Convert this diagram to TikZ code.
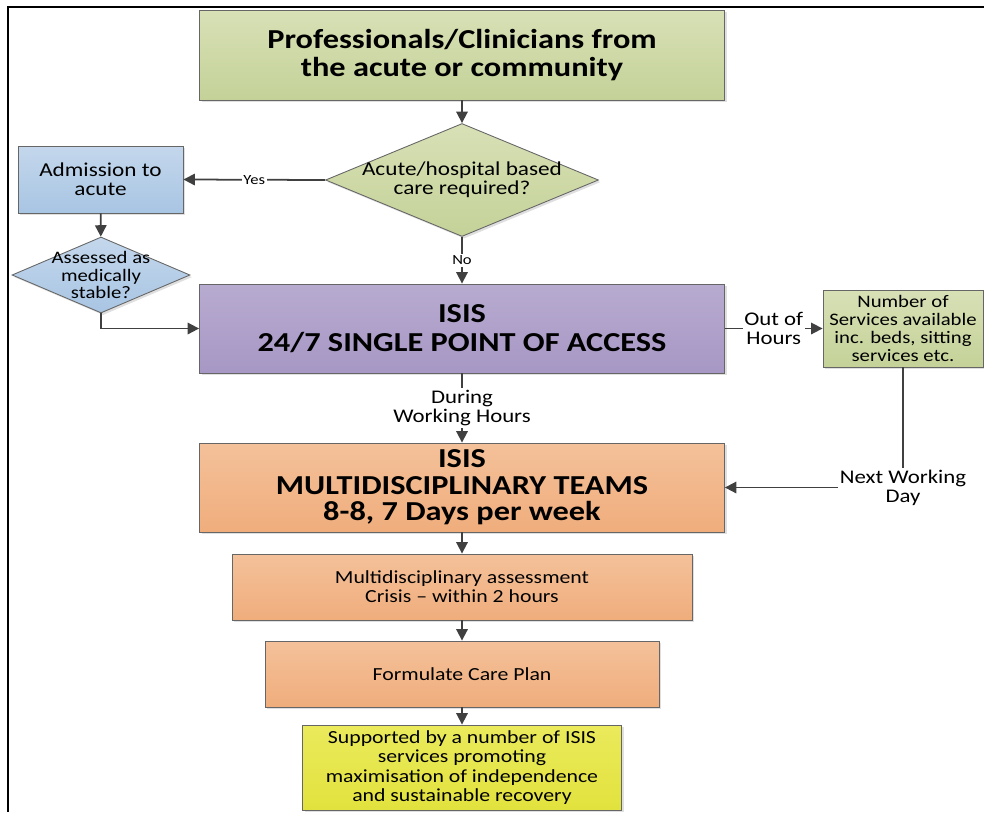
\documentclass[tikz,border=0pt]{standalone}
\usepackage{fontspec}
\setmainfont{Carlito}[FakeStretch=1.18]
\usetikzlibrary{arrows.meta, shapes.geometric, shadows}
\definecolor{greenT}{RGB}{216,224,182}
\definecolor{greenB}{RGB}{196,210,152}
\definecolor{purpleT}{RGB}{184,171,208}
\definecolor{purpleB}{RGB}{166,151,196}
\definecolor{orangeT}{RGB}{244,193,154}
\definecolor{orangeB}{RGB}{240,173,124}
\definecolor{blueT}{RGB}{196,215,236}
\definecolor{blueB}{RGB}{168,197,227}
\definecolor{yellowT}{RGB}{234,234,92}
\definecolor{yellowB}{RGB}{226,226,62}

\begin{document}
\begin{tikzpicture}[x=0.02cm, y=-0.02cm,
  box/.style={draw=black!60, line width=0.5pt, align=center, inner sep=2pt,
              drop shadow={shadow xshift=1.2pt, shadow yshift=-1.2pt, opacity=0.25}},
  greenbox/.style={box, top color=greenT, bottom color=greenB},
  purplebox/.style={box, top color=purpleT, bottom color=purpleB},
  orangebox/.style={box, top color=orangeT, bottom color=orangeB},
  bluebox/.style={box, top color=blueT, bottom color=blueB},
  yellowbox/.style={box, top color=yellowT, bottom color=yellowB},
  decision/.style={diamond, draw=black!60, line width=0.5pt, inner sep=0pt,
              drop shadow={shadow xshift=1.2pt, shadow yshift=-1.2pt, opacity=0.25}},
  headfont/.style={font=\bfseries\fontsize{15.6}{16.2}\selectfont},
  bodyfont/.style={font=\fontsize{10.5}{10.9}\selectfont},
  askfont/.style={align=center, font=\fontsize{11.2}{10.8}\selectfont},
  arr/.style={draw=black!75, line width=1pt, -{Triangle[length=6.5pt, width=6.5pt]}},
  lbl/.style={fill=white, inner sep=1pt, align=center, font=\fontsize{11}{10.8}\selectfont},
  yesno/.style={fill=white, inner sep=1pt, font=\fontsize{8}{9}\selectfont},
]
\useasboundingbox (0,0) rectangle (984,812);
\draw[line width=1.5pt] (984,7) -- (8,7) -- (8,812);

% boxes
\node[greenbox, headfont, minimum width=10.5cm, minimum height=1.8cm] (prof) at (462,55) {Professionals/Clinicians from\\the acute or community};
\node[decision, top color=greenT, bottom color=greenB, minimum width=5.46cm, minimum height=2.26cm,
      label={[askfont]center:Acute/hospital based\\care required?}] (acute) at (462,180) {};
\node[bluebox, askfont, minimum width=3.3cm, minimum height=1.34cm] (admit) at (100.5,179.5) {Admission to\\acute};
\node[decision, top color=blueT, bottom color=blueB, minimum width=3.56cm, minimum height=1.52cm,
      label={[align=center, font=\fontsize{10}{9.9}\selectfont]center:Assessed as\\medically\\stable?}] (stable) at (101,275) {};
\node[purplebox, headfont, minimum width=10.5cm, minimum height=1.78cm] (spa) at (462,328.5) {ISIS\\24/7 SINGLE POINT OF ACCESS};
\node[greenbox, font=\fontsize{10}{10.2}\selectfont, minimum width=3.2cm, minimum height=1.54cm] (serv) at (903,328.5) {Number of\\Services available\\inc. beds, sitting\\services etc.};
\node[orangebox, font=\bfseries\fontsize{15.6}{15}\selectfont, minimum width=10.5cm, minimum height=1.78cm] (mdt) at (462,487.5) {ISIS\\MULTIDISCIPLINARY TEAMS\\8-8, 7 Days per week};
\node[orangebox, bodyfont, minimum width=9.2cm, minimum height=1.32cm] (assess) at (462,587) {Multidisciplinary assessment\\Crisis -- within 2 hours};
\node[orangebox, bodyfont, minimum width=7.88cm, minimum height=1.32cm] (plan) at (462,674) {Formulate Care Plan};
\node[yellowbox, bodyfont, minimum width=6.38cm, minimum height=1.7cm] (support) at (462,767.5) {Supported by a number of ISIS\\services promoting\\maximisation of independence\\and sustainable recovery};

% connectors
\draw[arr] (prof) -- (acute);
\draw[arr] (acute.west) -- node[yesno] {Yes} (admit.east);
\draw[arr] (admit) -- (stable);
\draw[arr] (stable.south) |- (spa.west);
\draw[arr] (acute.south) -- node[yesno] {No} (spa.north);
\draw[arr] (spa.east) -- node[lbl] {Out of\\Hours} (serv.west);
\draw[arr] (spa) -- node[lbl] {During\\Working Hours} (mdt);
\draw[arr] (serv.south) |- node[lbl, pos=0.5] {Next Working\\Day} (mdt.east);
\draw[arr] (mdt) -- (assess);
\draw[arr] (assess) -- (plan);
\draw[arr] (plan) -- (support);
\end{tikzpicture}
\end{document}
